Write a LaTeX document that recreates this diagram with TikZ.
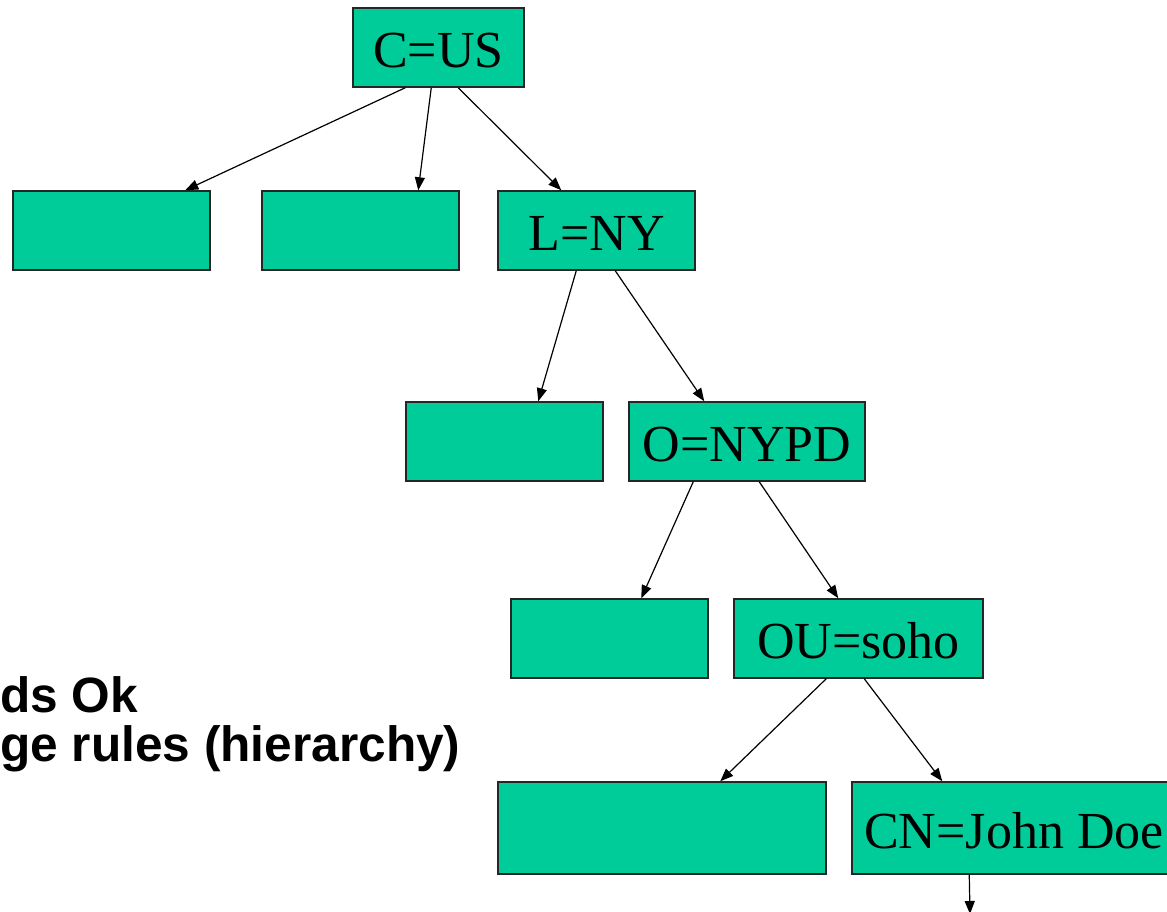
\documentclass[tikz,border=0pt]{standalone}
\usepackage{fontspec}
\setmainfont{Liberation Serif}
\newfontfamily\notefont{Liberation Sans}
\usetikzlibrary{arrows.meta}
\definecolor{dnfill}{HTML}{00CC99}
\tikzset{
  dn/.style={draw=black!85, line width=1.5pt, fill=dnfill, inner sep=0pt,
    minimum height=79pt, text height=40pt, text depth=0pt,
    font=\fontsize{52}{60}\selectfont},
  link/.style={line width=1.2pt, -{Triangle[length=13pt,width=10pt]}},
  note/.style={anchor=base west, inner sep=0pt, font=\notefont\bfseries\fontsize{49.6}{56}\selectfont}
}
\begin{document}
\begin{tikzpicture}[x=1pt,y=-1pt]
\useasboundingbox (0,0) rectangle (1167,911);
% directory tree entries
\node[dn, minimum width=171pt] (cus) at (438.5,47.5) {C=US};
\node[dn, minimum width=197pt] (e1) at (111.5,230.5) {};
\node[dn, minimum width=197pt] (e2) at (360.5,230.5) {};
\node[dn, minimum width=197pt] (lny) at (596.5,230.5) {L=NY};
\node[dn, minimum width=197pt] (e3) at (504.5,441.5) {};
\node[dn, minimum width=236pt] (onypd) at (747,441.5) {O=NYPD};
\node[dn, minimum width=197pt] (e4) at (609.5,638.5) {};
\node[dn, minimum width=249pt] (ousoho) at (858.5,638.5) {OU=soho};
\node[dn, minimum width=328pt, minimum height=92pt] (e5) at (662,828) {};
\node[dn, minimum width=324pt, minimum height=92pt] (cn) at (1014,828) {CN=John Doe};
\coordinate (below) at (970,914);
% side notes
\node[note] (n1) at (0,712) {ds Ok};
\node[note] (n2) at (0,761) {ge rules (hierarchy)};
% parent-to-child links
\draw[link] ([xshift=53pt]cus.south west) -- ([xshift=173pt]e1.north west);
\draw[link] ([xshift=79pt]cus.south west) -- ([xshift=157pt]e2.north west);
\draw[link] ([xshift=106pt]cus.south west) -- ([xshift=64pt]lny.north west);
\draw[link] ([xshift=79pt]lny.south west) -- ([xshift=133pt]e3.north west);
\draw[link] ([xshift=118pt]lny.south west) -- ([xshift=76pt]onypd.north west);
\draw[link] ([xshift=65pt]onypd.south west) -- ([xshift=131pt]e4.north west);
\draw[link] ([xshift=131pt]onypd.south west) -- ([xshift=105pt]ousoho.north west);
\draw[link] ([xshift=93pt]ousoho.south west) -- ([xshift=223pt]e5.north west);
\draw[link] ([xshift=131pt]ousoho.south west) -- ([xshift=91pt]cn.north west);
\draw[link] ([xshift=118pt]cn.south west) -- (below);
\end{tikzpicture}
\end{document}
